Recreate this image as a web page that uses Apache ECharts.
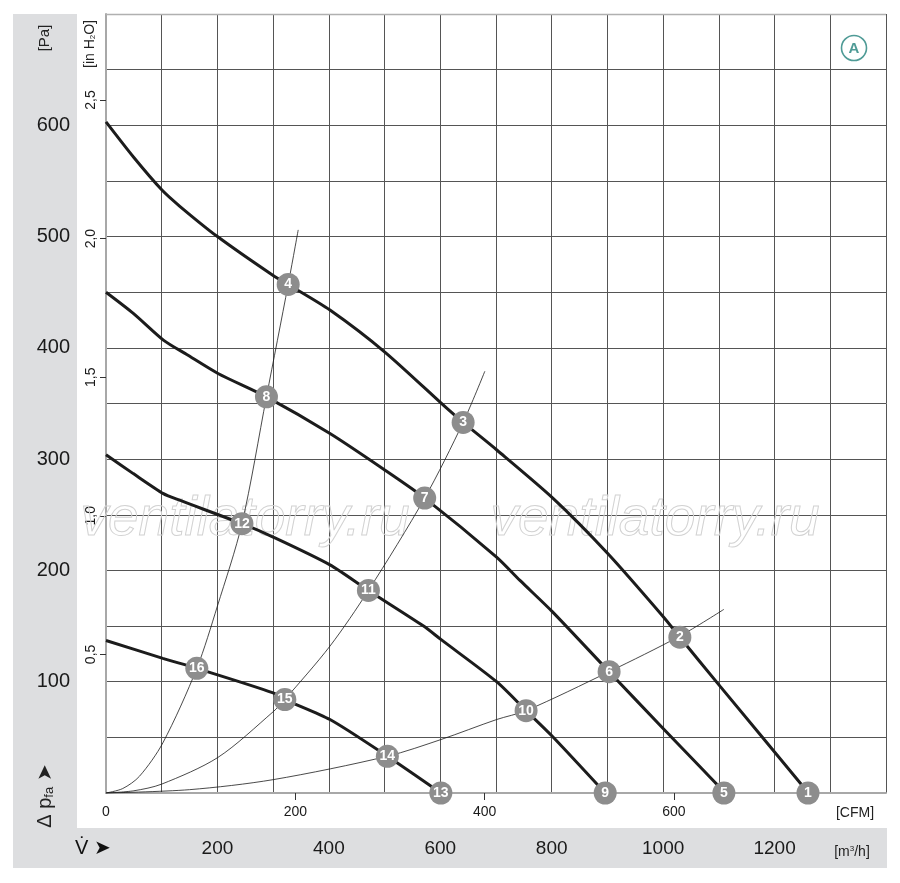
<!DOCTYPE html>
<html>
<head>
<meta charset="utf-8">
<script src="https://cdn.jsdelivr.net/npm/echarts@6/dist/echarts.min.js"></script>
<style>
  html, body { margin: 0; padding: 0; background: #fff; }
  #container { width: 900px; height: 883px; }
</style>
</head>
<body>
<div id="container"></div>
<script>
// fan curves, flow in m3/h, pressure in Pa
var flowA = [0, 50, 100, 133, 200, 300, 327, 402, 501, 611, 641, 702, 802, 901, 1001, 1030, 1102, 1246, 1260];
var pressA = [603, 571, 542, 527, 500, 465, 457, 434, 396, 346, 333, 308, 265, 215, 158, 140, 96, 9, 0];
var flowB = [0, 49, 103, 145, 201, 288, 402, 501, 572, 701, 743, 801, 903, 1000, 1096, 1109];
var pressB = [450, 431, 407, 394, 377, 356, 323, 290, 265, 212, 191, 163, 109, 58, 8, 0];
var flowC = [0, 49, 103, 127, 244, 300, 402, 471, 570, 601, 701, 754, 801, 896];
var pressC = [304, 287, 269, 264, 242, 230, 205, 182, 150, 138, 100, 74, 51, 0];
var flowD = [0, 102, 163, 300, 321, 402, 505, 601];
var pressD = [137, 121, 112, 90, 84, 66, 33, 0];

// system resistance curves
var flowS1 = [0, 30, 60, 102, 163, 200, 244, 288, 327, 345];
var pressS1 = [0, 4, 15, 45, 112, 168, 242, 356, 457, 506];
var flowS2 = [0, 50, 100, 201, 300, 321, 402, 471, 572, 641, 680];
var pressS2 = [0, 2, 8, 32, 73, 84, 132, 182, 265, 333, 379];
var flowS3 = [0, 150, 300, 505, 601, 701, 754, 903, 1030, 1109];
var pressS3 = [0, 3, 12, 33, 48, 66, 74, 109, 141, 165];

// numbered operating points
var pointNames = ['1', '2', '3', '4', '5', '6', '7', '8', '9', '10', '11', '12', '13', '14', '15', '16'];
var pointFlow = [1260, 1030, 641, 327, 1109, 903, 572, 288, 896, 754, 471, 244, 601, 505, 321, 163];
var pointPress = [0, 140, 333, 457, 0, 109, 265, 356, 0, 74, 182, 242, 0, 33, 84, 112];

var FONT = "'Liberation Sans Narrow', 'Liberation Sans', sans-serif";
var CFM = 1.699;     // m3/h per CFM
var INH2O = 249.089; // Pa per in H2O

function pairs(xs, ys) {
    return xs.map(function(x, i) { return [x, ys[i]]; });
}

function curve(xs, ys, thin) {
    return {
        type: 'line',
        data: pairs(xs, ys),
        smooth: thin ? 0.3 : 0.25,
        showSymbol: false,
        silent: true,
        z: thin ? 3 : 4,
        lineStyle: { color: '#1c1c1c', width: thin ? 0.8 : 3 }
    };
}

var chart = echarts.init(document.getElementById('container'));
chart.setOption({
    animation: false,
    backgroundColor: '#fff',
    grid: { left: 106, right: 14, top: 14, bottom: 90, containLabel: false },
    xAxis: [{
            type: 'value', min: 0, max: 1400, interval: 100,
            axisLine: { show: true, lineStyle: { color: '#a8a8a8', width: 2 } },
            axisTick: { show: false },
            splitLine: { show: true, lineStyle: { color: '#555', width: 1 } },
            axisLabel: {
                margin: 46, fontSize: 19, color: '#1a1a1a', fontFamily: FONT,
                formatter: function(v) { return (v % 200 === 0 && v > 0 && v < 1400) ? String(v) : ''; }
            }
        }, {
            type: 'value', min: 0, max: 1400 / CFM, position: 'bottom',
            axisLine: { show: false },
            axisTick: { show: true, length: 7, customValues: [200, 400, 600], lineStyle: { color: '#333' } },
            splitLine: { show: false },
            axisLabel: { margin: 12, fontSize: 14, color: '#1a1a1a', fontFamily: FONT, customValues: [0, 200, 400, 600] }
        }],
    yAxis: [{
            type: 'value', min: 0, max: 700, interval: 50,
            axisLine: { show: true, lineStyle: { color: '#a8a8a8', width: 2 } },
            axisTick: { show: false },
            splitLine: { show: true, lineStyle: { color: '#555', width: 1 } },
            axisLabel: {
                margin: 36, fontSize: 20, color: '#1a1a1a', fontFamily: FONT,
                formatter: function(v) { return (v % 100 === 0 && v > 0 && v < 700) ? String(v) : ''; }
            }
        }, {
            type: 'value', min: 0, max: 700 / INH2O, position: 'left',
            axisLine: { show: false },
            axisTick: { show: true, length: 6, customValues: [0.5, 1, 1.5, 2, 2.5], lineStyle: { color: '#333' } },
            splitLine: { show: false },
            axisLabel: {
                margin: 8, fontSize: 14, rotate: 90, color: '#1a1a1a', fontFamily: FONT,
                customValues: [0.5, 1, 1.5, 2, 2.5],
                formatter: function(v) { return v.toFixed(1).replace('.', ','); }
            }
        }],
    graphic: [
        { type: 'rect', z: -10, silent: true, shape: { x: 13, y: 14, width: 64, height: 814 }, style: { fill: '#dddee0' } },
        { type: 'rect', z: -10, silent: true, shape: { x: 13, y: 828, width: 874, height: 40 }, style: { fill: '#dddee0' } },
        { type: 'line', z: 1, silent: true, shape: { x1: 106, y1: 14.5, x2: 886, y2: 14.5 }, style: { stroke: '#b0b0b0', lineWidth: 1.5 } },
        { type: 'text', x: 45, y: 38, rotation: Math.PI / 2, z: 10,
            style: { text: '[Pa]', font: '15px ' + FONT, fill: '#222', align: 'center', verticalAlign: 'middle' } },
        { type: 'text', x: 90, y: 44, rotation: Math.PI / 2, z: 10,
            style: {
                text: '[in H{s|2}O]', font: '14px ' + FONT, fill: '#222', align: 'center', verticalAlign: 'middle',
                rich: { s: { fontSize: 8, fontFamily: FONT, fill: '#222', verticalAlign: 'bottom', padding: [6, 0, 0, 0] } }
            } },
        { type: 'text', x: 45, y: 796, rotation: Math.PI / 2, z: 10,
            style: {
                text: '\u0394 p{s|fa} \u27A4', font: '20px ' + FONT, fill: '#222', align: 'center', verticalAlign: 'middle',
                rich: { s: { fontSize: 13, fontFamily: FONT, fill: '#222', padding: [9, 0, 0, 0] } }
            } },
        { type: 'text', x: 93, y: 848, z: 10,
            style: { text: 'V\u0307 \u27A4', font: '20px ' + FONT, fill: '#111', align: 'center', verticalAlign: 'middle' } },
        { type: 'text', x: 855, y: 813, z: 10,
            style: { text: '[CFM]', font: '14px ' + FONT, fill: '#222', align: 'center', verticalAlign: 'middle' } },
        { type: 'text', x: 852, y: 852, z: 10,
            style: {
                text: '[m{s|3}/h]', font: '14px ' + FONT, fill: '#222', align: 'center', verticalAlign: 'middle',
                rich: { s: { fontSize: 8, fontFamily: FONT, fill: '#222', padding: [0, 0, 6, 0] } }
            } },
        { type: 'circle', z: 10, silent: true, shape: { cx: 854, cy: 48, r: 12.5 }, style: { fill: '#fff', stroke: '#4f9b96', lineWidth: 1.6 } },
        { type: 'text', x: 854, y: 49, z: 11,
            style: { text: 'A', font: 'bold 15px ' + FONT, fill: '#4f9b96', align: 'center', verticalAlign: 'middle' } },
        { type: 'text', x: 245, y: 520, z: 2, silent: true,
            style: { text: 'ventilatorry.ru', font: 'italic 55px ' + FONT, fill: 'rgba(255,255,255,0)', stroke: '#d2d2d2', lineWidth: 1, align: 'center', verticalAlign: 'middle' } },
        { type: 'text', x: 655, y: 520, z: 2, silent: true,
            style: { text: 'ventilatorry.ru', font: 'italic 55px ' + FONT, fill: 'rgba(255,255,255,0)', stroke: '#d2d2d2', lineWidth: 1, align: 'center', verticalAlign: 'middle' } }
    ],
    series: [
        curve(flowS1, pressS1, true),
        curve(flowS2, pressS2, true),
        curve(flowS3, pressS3, true),
        curve(flowA, pressA, false),
        curve(flowB, pressB, false),
        curve(flowC, pressC, false),
        curve(flowD, pressD, false),
        {
            type: 'scatter',
            clip: false,
            silent: true,
            z: 6,
            symbol: 'circle',
            symbolSize: 23,
            itemStyle: { color: '#8d8d8d', opacity: 1 },
            label: {
                show: true, position: 'inside', color: '#fff', fontWeight: 'bold', fontSize: 14, fontFamily: FONT,
                formatter: function(p) { return p.value[2]; }
            },
            data: pointNames.map(function(n, i) { return [pointFlow[i], pointPress[i], n]; })
        }
    ]
});
</script>
</body>
</html>
